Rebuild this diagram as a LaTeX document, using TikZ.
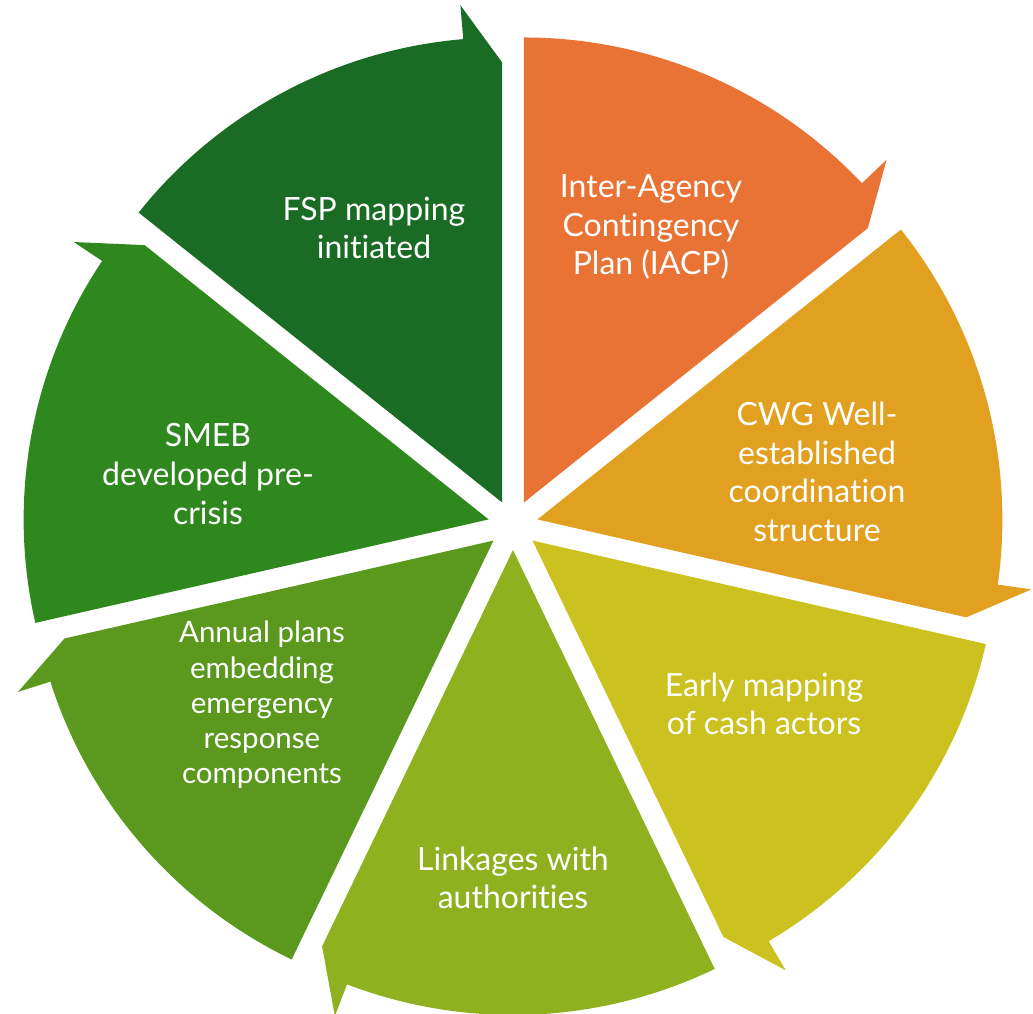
\documentclass[tikz,border=0pt]{standalone}
\usepackage{fontspec}
\setmainfont{Lato}[Ligatures=NoCommon]
\usepackage{tikz}
\usetikzlibrary{calc}

\definecolor{iacp}{RGB}{233,115,52}
\definecolor{cwg}{RGB}{226,160,32}
\definecolor{early}{RGB}{203,193,31}
\definecolor{links}{RGB}{143,177,32}
\definecolor{annual}{RGB}{90,152,30}
\definecolor{smeb}{RGB}{46,136,30}
\definecolor{fsp}{RGB}{26,107,36}

\begin{document}
\begin{tikzpicture}[x=1pt,y=1pt,
	lbl/.style={text=white,align=center,font=\fontsize{32}{38.6}\selectfont},
	small lbl/.style={lbl,font=\fontsize{29.5}{35.3}\selectfont}]
	\useasboundingbox (0,0) rectangle (1033,1013);
	\coordinate (O) at (513,488);
	% seven slices, each pushed out from O and ending in a hook clockwise
	\foreach \a/\c in {90/iacp,38.571/cwg,-12.857/early,-64.286/links,-115.714/annual,-167.143/smeb,-218.571/fsp}{
		\pgfmathsetmacro\e{\a-51.429}
		\pgfmathsetmacro\m{\a-25.714}
		\pgfmathsetmacro\h{\e+4.8}
		\fill[\c] ($(O)+(\m:25)$) coordinate (p) -- ++(\a:465)
			arc[start angle=\a,end angle=\h,radius=465]
			-- ($(p)+(\h:499)$) -- ($(p)+(\e:440)$) -- cycle;
	}
	\node[lbl] (fsplbl) at (374,785) {FSP mapping\\initiated};
	\node[lbl] (iacplbl) at (651,786) {Inter-Agency\\Contingency\\Plan (IACP)};
	\node[lbl] (cwglbl) at (817,541) {CWG Well-\\established\\coordination\\structure};
	\node[lbl] (earlylbl) at (764,309) {Early mapping\\of cash actors};
	\node[lbl] (linkslbl) at (513,135) {Linkages with\\authorities};
	\node[small lbl] (annuallbl) at (262,308) {Annual plans\\embedding\\emergency\\response\\components};
	\node[lbl] (smeblbl) at (208,539) {SMEB\\developed pre-\\crisis};
\end{tikzpicture}
\end{document}
